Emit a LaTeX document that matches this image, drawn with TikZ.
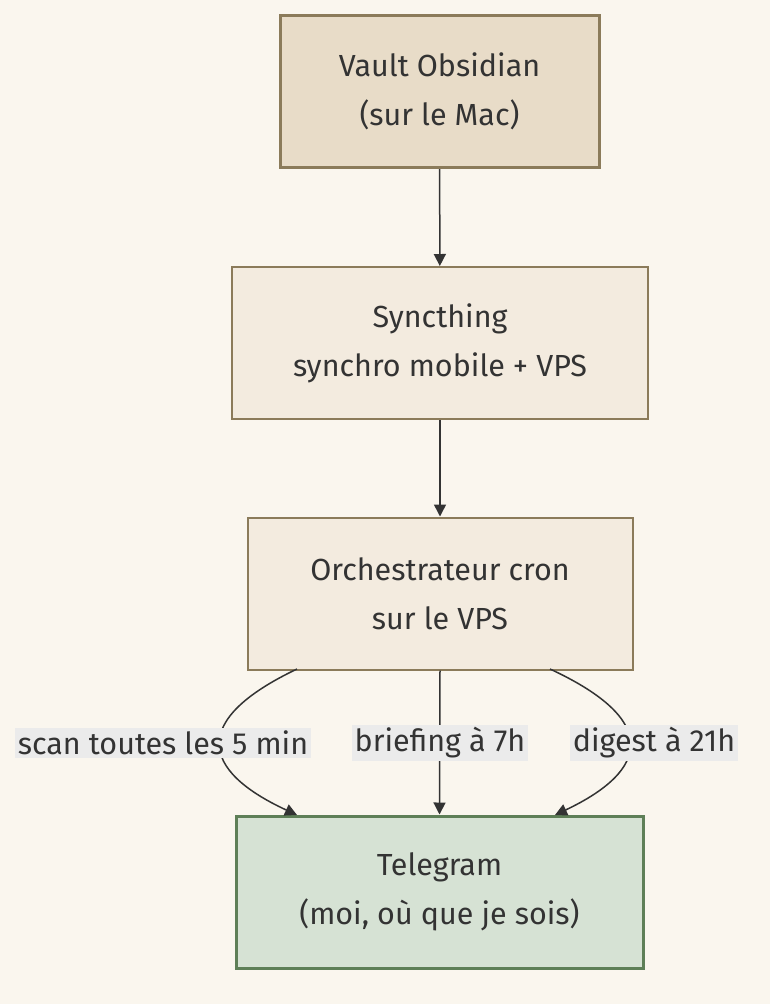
\documentclass[tikz,border=0pt]{standalone}
\usepackage{fontspec}
\setmainfont{Fira Sans}
\usetikzlibrary{arrows.meta, positioning}
\definecolor{bgc}{HTML}{FAF6EE}
\definecolor{vaultfill}{HTML}{E8DCC8}
\definecolor{stepfill}{HTML}{F3EBDF}
\definecolor{stepdraw}{HTML}{8B7B5A}
\definecolor{telefill}{HTML}{D6E2D4}
\definecolor{teledraw}{HTML}{5E7F57}
\definecolor{labfill}{HTML}{EBEBEB}
\definecolor{ink}{HTML}{333333}
\tikzset{
  box/.style={draw=stepdraw, fill=stepfill, line width=2pt, align=center, font=\fontsize{30.5}{49}\selectfont, text=ink, minimum height=152pt},
  lab/.style={fill=labfill, inner sep=3pt, font=\fontsize{30.5}{33}\selectfont, text=ink},
  flow/.style={draw=ink, line width=1.5pt, -{Triangle[length=12pt,width=12pt]}}
}
\begin{document}
\begin{tikzpicture}[x=1pt, y=-1pt]
    \fill[bgc] (0,0) rectangle (770,1004);
    \useasboundingbox (0,0) rectangle (770,1004);
    \node[box, fill=vaultfill, line width=3pt, minimum width=319pt] (vault) at (439.5,91.5) {Vault Obsidian\\(sur le Mac)};
    \node[box, minimum width=416pt] (sync) at (440,343) {Syncthing\\synchro mobile + VPS};
    \node[box, minimum width=385pt] (orch) at (440,593.5) {Orchestrateur cron\\sur le VPS};
    \node[box, draw=teledraw, fill=telefill, line width=3pt, minimum width=407pt] (tele) at (439.5,892) {Telegram\\(moi, où que je sois)};

    \draw[flow] (vault) -- (sync);
    \draw[flow] (sync) -- (orch);
    \draw[flow] (orch.south) -- (tele.north);
    \draw[flow] (297,669) .. controls (190,720) and (200,770) .. (297,815);
    \draw[flow] (550,669) .. controls (660,720) and (650,770) .. (555,815);

    \node[lab] (scan) at (163,743) {scan toutes les 5 min};
    \node[lab] (brief) at (440,743) {briefing à 7h};
    \node[lab] (dig) at (654,743) {digest à 21h};
\end{tikzpicture}
\end{document}
